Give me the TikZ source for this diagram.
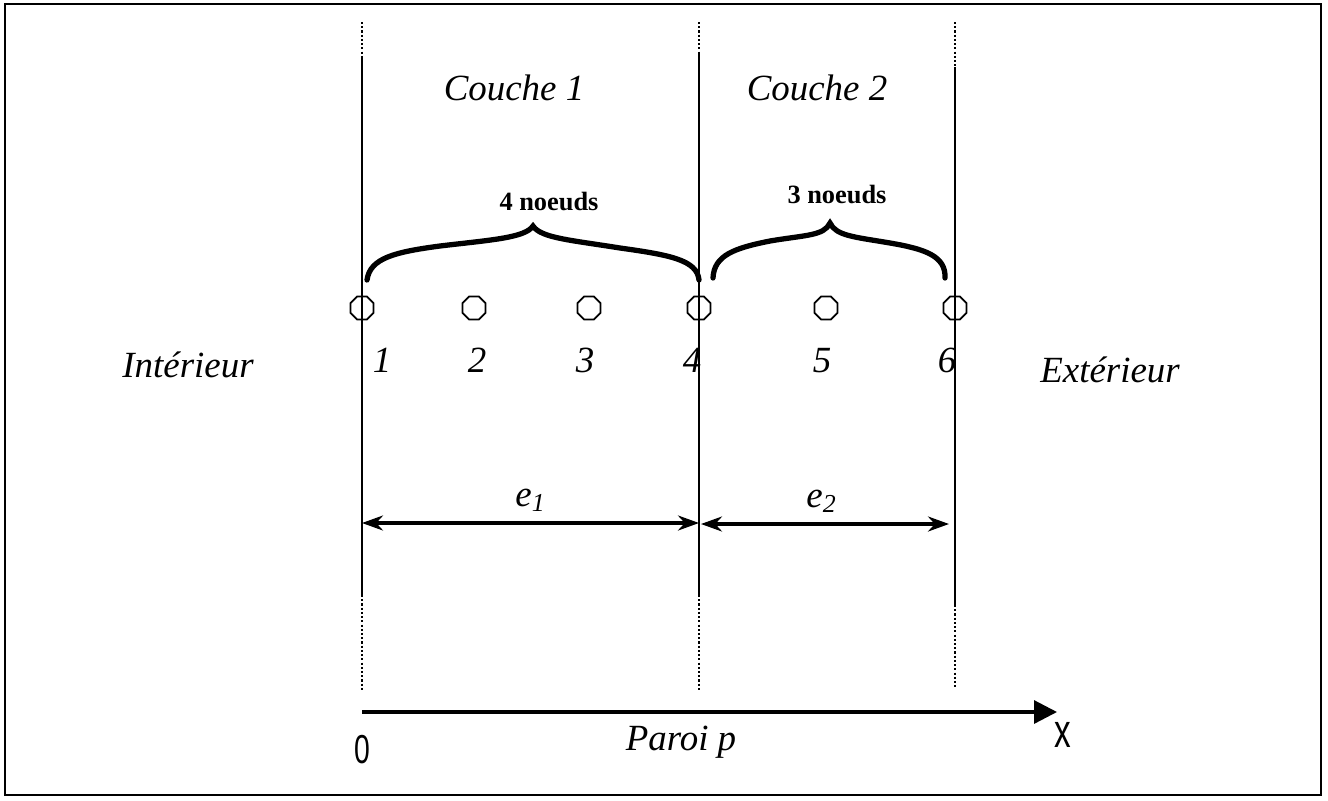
\documentclass[tikz,border=0pt]{standalone}
\usepackage{fontspec}
\setmainfont{Liberation Serif}
\newfontfamily\narrowsans[FakeStretch=0.7]{Liberation Sans}
\usetikzlibrary{arrows.meta, shapes.geometric}

\begin{document}
\begin{tikzpicture}[x=0.01cm, y=-0.01cm,
        nd/.style={regular polygon, regular polygon sides=8, draw, line width=0.5pt,
                   minimum size=0.25cm, inner sep=0pt},
        lab/.style={font=\fontsize{10.5}{12}\selectfont\itshape, anchor=base, inner sep=0pt},
        blab/.style={font=\fontsize{7.5}{9}\selectfont\bfseries, anchor=base, inner sep=0pt},
        ax/.style={font=\narrowsans, anchor=base, inner sep=0pt},
        wall/.style={line width=0.6pt},
        dots/.style={line width=0.5pt, dash pattern=on 0.6pt off 0.6pt},
        brc/.style={line width=1.5pt, line cap=round},
        dim/.style={line width=0.9pt,
                    {Stealth[length=0.21cm, width=0.15cm]}-{Stealth[length=0.21cm, width=0.15cm]}}]
      \useasboundingbox (0,0) rectangle (1328,800);
      \draw[line width=0.8pt] (5,4) rectangle (1321,795);
      % walls
      \foreach \i/\x/\t/\b/\e in {1/362/57/595/690, 2/699/52/595/690, 3/955/67/605/688} {
        \coordinate (w\i a) at (\x,22);
        \coordinate (w\i b) at (\x,\t);
        \coordinate (w\i c) at (\x,\b);
        \coordinate (w\i d) at (\x,\e);
        \draw[dots] (w\i a) -- (w\i b);
        \draw[wall] (w\i b) -- (w\i c);
        \draw[dots] (w\i c) -- (w\i d);
      }
      \node[lab] (c1) at (514,100) {Couche 1};
      \node[lab] (c2) at (817,100) {Couche 2};
      % braces
      \draw[brc] (367,280) .. controls (370,258) and (395,252) .. (440,246)
                 .. controls (490,240) and (525,238) .. (533,226)
                 .. controls (541,238) and (570,240) .. (620,248)
                 .. controls (670,255) and (697,260) .. (699,280);
      \draw[brc] (713,278) .. controls (714,255) and (735,248) .. (770,241)
                 .. controls (805,235) and (824,236) .. (830,223)
                 .. controls (836,236) and (855,237) .. (890,243)
                 .. controls (925,249) and (946,256) .. (945,278);
      \node[blab] (k1) at (549,210) {4 noeuds};
      \node[blab] (k2) at (837,203) {3 noeuds};
      % nodes
      \node[nd] (n1) at (362,308) {};
      \node[nd] (n2) at (474,308) {};
      \node[nd] (n3) at (589,308) {};
      \node[nd] (n4) at (699,308) {};
      \node[nd] (n5) at (826,308) {};
      \node[nd] (n6) at (955,308) {};
      \node[lab] (l1) at (382,372) {1};
      \node[lab] (l2) at (477,372) {2};
      \node[lab] (l3) at (585,372) {3};
      \node[lab] (l4) at (692,372) {4};
      \node[lab] (l5) at (822,372) {5};
      \node[lab] (l6) at (947,372) {6};
      \node[lab] (int) at (188,377) {Intérieur};
      \node[lab] (ext) at (1110,382) {Extérieur};
      % thicknesses
      \coordinate (d1) at (362,523);
      \coordinate (d2) at (699,523);
      \coordinate (d3) at (701,524);
      \coordinate (d4) at (949,524);
      \draw[dim] (d1) -- (d2);
      \draw[dim] (d3) -- (d4);
      \node[lab] (e1) at (531,506) {e\textsubscript{1}};
      \node[lab] (e2) at (822,507) {e\textsubscript{2}};
      % axis
      \coordinate (o) at (362,712);
      \coordinate (xe) at (1057,712);
      \draw[line width=0.9pt, -{Triangle[length=0.23cm, width=0.23cm]}] (o) -- (xe);
      \node[ax, font=\narrowsans\fontsize{11.5}{13}\selectfont] (zero) at (362,763) {0};
      \node[ax, font=\narrowsans\fontsize{13.5}{15}\selectfont] (xl) at (1063,747) {x};
      \node[lab] (par) at (681,750) {Paroi p};
    \end{tikzpicture}
\end{document}
